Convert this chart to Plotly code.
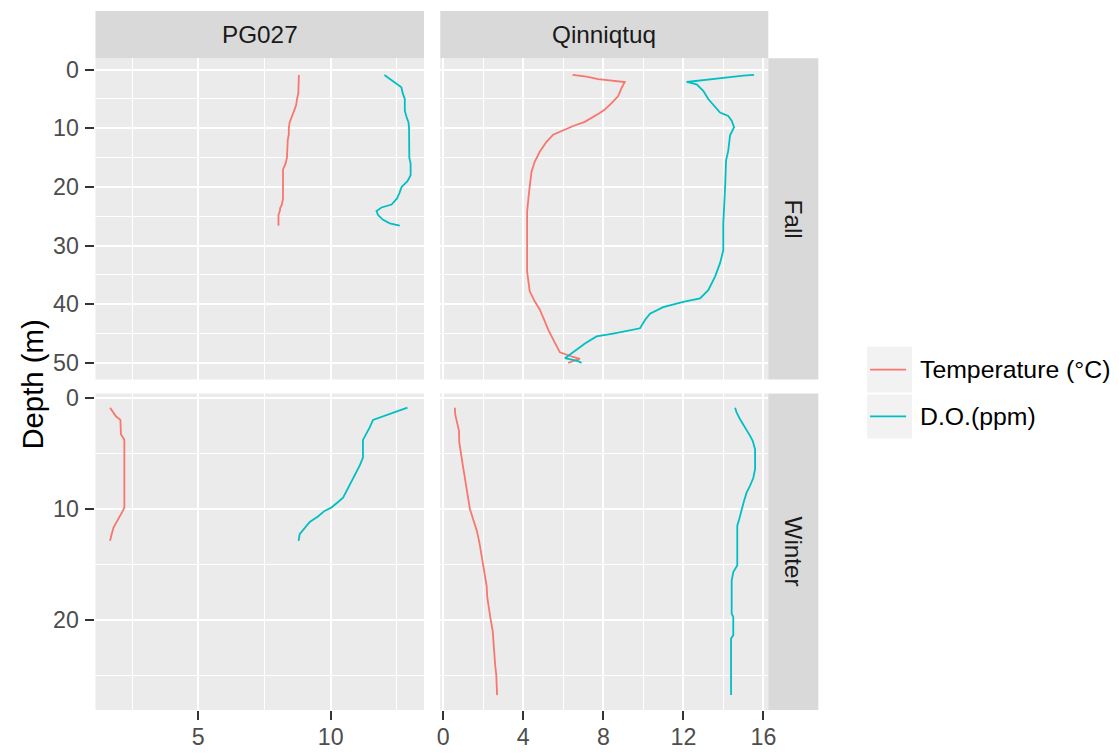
import plotly.graph_objects as go

# ---- profile data: depth (m), temperature (°C), dissolved oxygen (ppm) ----
# PG027, Fall
pg_fall_depth = [0.9, 1.6, 2.4, 3.0, 4.0, 5.0, 6.0, 7.0, 8.0, 9.0, 10, 11, 12, 13, 14, 15,
                 16, 17, 18, 19, 20, 21, 22, 23, 23.5, 24.1, 24.8, 25.6, 26.2, 26.6]
pg_fall_temp = [8.80, 8.80, 8.80, 8.80, 8.78, 8.73, 8.70, 8.62, 8.52, 8.45, 8.42, 8.42, 8.38,
                8.36, 8.36, 8.35, 8.30, 8.20, 8.20, 8.20, 8.20, 8.20, 8.20, 8.16, 8.10, 8.08,
                8.03, 8.03, 8.03, 8.03]
pg_fall_do = [12.03, 12.23, 12.48, 12.67, 12.72, 12.80, 12.80, 12.80, 12.86, 12.94, 12.96,
              12.96, 12.96, 12.96, 12.96, 12.97, 13.02, 13.02, 13.02, 12.90, 12.68, 12.60,
              12.50, 12.30, 11.92, 11.73, 11.79, 11.98, 12.23, 12.61]

# PG027, Winter
pg_winter_depth = [0.9, 1.3, 1.7, 2.0, 2.7, 3.3, 3.8, 4.5, 5.4, 6.1, 7.0, 7.9, 9.0, 9.4, 9.9,
                   10.2, 10.7, 11.2, 11.7, 12.3, 12.9]
pg_winter_temp = [1.67, 1.77, 1.90, 2.06, 2.06, 2.08, 2.21, 2.21, 2.21, 2.21, 2.21, 2.21, 2.21,
                  2.21, 2.21, 2.15, 2.03, 1.92, 1.80, 1.73, 1.67]
pg_winter_do = [12.90, 12.42, 11.98, 11.60, 11.47, 11.35, 11.22, 11.22, 11.22, 11.10, 10.91,
                10.72, 10.47, 10.28, 10.03, 9.77, 9.52, 9.21, 9.02, 8.83, 8.79]

# Qinniqtuq, Fall
qq_fall_temp_depth = [0.9, 1.2, 1.6, 1.9, 2.1, 3.1, 4.5, 5.7, 6.8, 7.4, 8.0, 8.9, 9.6, 10.3,
                      11.1, 12.3, 14.0, 15.7, 17.4, 20.8, 24.2, 34.4, 37.8, 39.5, 40.9, 42.9,
                      44.3, 46.6, 48.2, 49.0, 49.3, 50.0]
qq_fall_temp = [6.46, 7.16, 7.74, 8.49, 9.07, 8.91, 8.74, 8.41, 8.07, 7.82, 7.49, 7.07, 6.49,
                5.99, 5.49, 5.16, 4.82, 4.57, 4.41, 4.29, 4.19, 4.19, 4.32, 4.57, 4.82, 5.07,
                5.24, 5.58, 5.83, 6.49, 6.83, 6.24]
qq_fall_do_depth = [0.9, 1.0, 1.4, 1.8, 2.1, 2.5, 3.6, 5.0, 6.4, 7.3, 7.9, 8.7, 9.8, 11.2, 13.8,
                    15.5, 19.5, 26.3, 30.8, 33.0, 35.3, 37.6, 39.0, 39.6, 40.5, 41.6, 42.7,
                    44.1, 45.0, 45.5, 46.7, 47.8, 48.6, 49.2, 49.7, 50.0]
qq_fall_do = [15.53, 14.99, 13.99, 12.99, 12.16, 12.66, 12.99, 13.24, 13.58, 13.83, 14.24,
              14.41, 14.53, 14.33, 14.24, 14.13, 14.09, 13.99, 13.99, 13.83, 13.58, 13.24,
              12.83, 11.99, 10.99, 10.33, 10.08, 9.83, 8.49, 7.66, 7.08, 6.66, 6.33, 6.08,
              6.74, 6.91]

# Qinniqtuq, Winter
qq_winter_temp_depth = [0.9, 1.5, 2, 3, 4, 5, 6, 7, 8, 9, 10, 11, 12, 13, 14, 15, 16, 17, 18,
                        19, 20, 21, 22, 23, 24, 25, 26, 26.8]
qq_winter_temp = [0.58, 0.60, 0.66, 0.79, 0.80, 0.90, 0.97, 1.06, 1.14, 1.24, 1.33, 1.50,
                  1.68, 1.80, 1.90, 1.97, 2.08, 2.17, 2.20, 2.27, 2.37, 2.47, 2.50, 2.56,
                  2.59, 2.65, 2.69, 2.69]
qq_winter_do_depth = [0.9, 1.35, 1.94, 2.39, 2.93, 3.44, 3.89, 4.64, 6.44, 7.24, 7.93, 8.53,
                      9.28, 10.18, 10.93, 11.53, 15.12, 15.72, 16.47, 19.46, 19.76, 21.41,
                      21.71, 26.8]
qq_winter_do = [14.58, 14.66, 14.83, 14.99, 15.16, 15.33, 15.46, 15.58, 15.58, 15.49, 15.33,
                15.16, 15.03, 14.91, 14.79, 14.69, 14.69, 14.49, 14.41, 14.41, 14.49, 14.49,
                14.38, 14.38]

stations = ["PG027", "Qinniqtuq"]
seasons = ["Fall", "Winter"]
series_names = ["Temperature (°C)", "D.O.(ppm)"]
series_colors = ["#F8766D", "#00BFC4"]

W, H = 1119, 756
# the page body insets and slightly shrinks the drawing; positions below are
# given in on-screen pixels and converted to paper fractions here
OFF_X, OFF_Y = 3.6, 8.0
SCALE = 0.9894
AREA_W, AREA_H = W * SCALE, H * SCALE


def px(x):
    """screen x (pixels) -> paper fraction"""
    return (x - OFF_X) / AREA_W


def py(y):
    """screen y (pixels, from top) -> paper fraction"""
    return 1 - (y - OFF_Y) / AREA_H


def fs(size):
    """font size compensated for the page scaling"""
    return round(size / SCALE, 1)


# panel geometry (screen pixels)
col_x = [(96, 424.3), (440.5, 768.3)]
row_y = [(57.3, 379), (393, 710)]
strip_top = (10, 57.3)
strip_right = (768.3, 818.3)

x_ranges = [[1.119, 13.526], [-0.15, 16.24]]
x_dtick = [5, 4]
y_ranges = [[52.84, -1.95], [28.15, -0.38]]

panels = {
    (0, 0): [(pg_fall_temp, pg_fall_depth), (pg_fall_do, pg_fall_depth)],
    (0, 1): [(qq_fall_temp, qq_fall_temp_depth), (qq_fall_do, qq_fall_do_depth)],
    (1, 0): [(pg_winter_temp, pg_winter_depth), (pg_winter_do, pg_winter_depth)],
    (1, 1): [(qq_winter_temp, qq_winter_temp_depth), (qq_winter_do, qq_winter_do_depth)],
}

FONT = "Liberation Sans, Arial, sans-serif"
TICK_FONT = dict(family=FONT, size=fs(23), color="#4D4D4D")

fig = go.Figure()
layout = dict(
    width=W, height=H,
    margin=dict(l=0, r=0, t=0, b=0),
    paper_bgcolor="white",
    plot_bgcolor="#EBEBEB",
    showlegend=False,
    font=dict(family=FONT),
)

shapes = []
annotations = []

for r in range(2):
    for c in range(2):
        idx = r * 2 + c + 1
        sfx = "" if idx == 1 else str(idx)
        xname, yname = "x" + sfx, "y" + sfx
        for (vals, depth), name, color in zip(panels[(r, c)], series_names, series_colors):
            fig.add_trace(go.Scatter(
                x=vals, y=depth, mode="lines", name=name,
                line=dict(color=color, width=1.8),
                xaxis=xname, yaxis=yname, hoverinfo="skip",
            ))
        bottom = r == 1
        left = c == 0
        layout["xaxis" + sfx] = dict(
            domain=[px(col_x[c][0]), px(col_x[c][1])],
            anchor=yname,
            range=x_ranges[c],
            tick0=0, dtick=x_dtick[c],
            showgrid=True, gridcolor="white", gridwidth=2,
            minor=dict(dtick=x_dtick[c] / 2, showgrid=True, gridcolor="white", gridwidth=1),
            zeroline=False, showline=False,
            showticklabels=bottom,
            ticks="outside" if bottom else "",
            ticklen=9, tickwidth=1.5, tickcolor="#333333",
            ticklabelstandoff=-3,
            tickfont=TICK_FONT,
        )
        layout["yaxis" + sfx] = dict(
            domain=[py(row_y[r][1]), py(row_y[r][0])],
            anchor=xname,
            range=y_ranges[r],
            tick0=0, dtick=10,
            showgrid=True, gridcolor="white", gridwidth=2,
            minor=dict(dtick=5, showgrid=True, gridcolor="white", gridwidth=1),
            zeroline=False, showline=False,
            showticklabels=left,
            ticks="outside" if left else "",
            ticklen=9, tickwidth=1.5, tickcolor="#333333",
            ticklabelstandoff=2,
            tickfont=TICK_FONT,
        )

# facet strips
for c, label in enumerate(stations):
    shapes.append(dict(type="rect", xref="paper", yref="paper",
                       x0=px(col_x[c][0]), x1=px(col_x[c][1]),
                       y0=py(strip_top[1]), y1=py(strip_top[0]),
                       fillcolor="#D9D9D9", line=dict(width=0), layer="below"))
    annotations.append(dict(text=label, xref="paper", yref="paper",
                            x=px((col_x[c][0] + col_x[c][1]) / 2),
                            y=py((strip_top[0] + strip_top[1]) / 2),
                            showarrow=False, xanchor="center", yanchor="middle",
                            font=dict(family=FONT, size=fs(24), color="#1A1A1A")))
for r, label in enumerate(seasons):
    shapes.append(dict(type="rect", xref="paper", yref="paper",
                       x0=px(strip_right[0]), x1=px(strip_right[1]),
                       y0=py(row_y[r][1]), y1=py(row_y[r][0]),
                       fillcolor="#D9D9D9", line=dict(width=0), layer="below"))
    annotations.append(dict(text=label, xref="paper", yref="paper",
                            x=px((strip_right[0] + strip_right[1]) / 2),
                            y=py((row_y[r][0] + row_y[r][1]) / 2),
                            textangle=90,
                            showarrow=False, xanchor="center", yanchor="middle",
                            font=dict(family=FONT, size=fs(24), color="#1A1A1A")))

# y axis title
annotations.append(dict(text="Depth (m)", xref="paper", yref="paper",
                        x=px(33), y=py((row_y[0][0] + row_y[1][1]) / 2),
                        textangle=-90, showarrow=False,
                        xanchor="center", yanchor="middle",
                        font=dict(family=FONT, size=fs(29), color="black")))

# legend keys
key_x = (867, 912)
key_rows = [(346.3, 392), (394, 438)]
for (y0, y1), name, color in zip(key_rows, series_names, series_colors):
    shapes.append(dict(type="rect", xref="paper", yref="paper",
                       x0=px(key_x[0]), x1=px(key_x[1]), y0=py(y1), y1=py(y0),
                       fillcolor="#F2F2F2", line=dict(width=0)))
    ym = (y0 + y1) / 2
    shapes.append(dict(type="line", xref="paper", yref="paper",
                       x0=px(870), x1=px(906), y0=py(ym), y1=py(ym),
                       line=dict(color=color, width=1.8)))
    annotations.append(dict(text=name, xref="paper", yref="paper",
                            x=px(918), y=py(ym), showarrow=False,
                            xanchor="left", yanchor="middle",
                            font=dict(family=FONT, size=fs(24.5), color="black")))

layout["shapes"] = shapes
layout["annotations"] = annotations
fig.update_layout(**layout)

fig.write_html("out.html")
